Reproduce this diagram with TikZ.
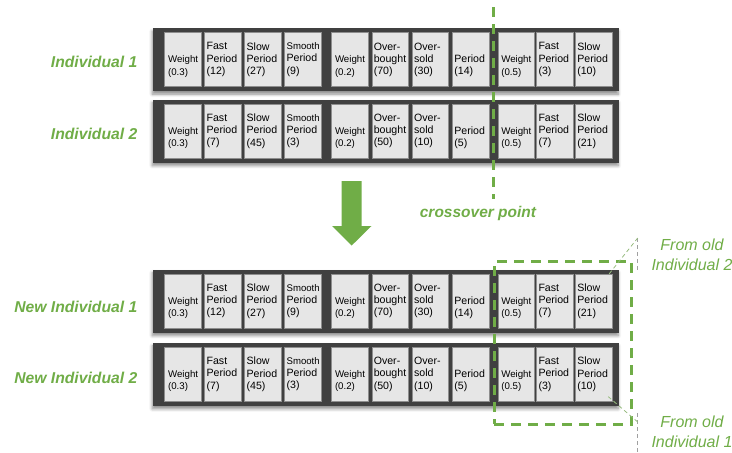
\documentclass[tikz,border=0pt]{standalone}
\usepackage{fontspec}
\setmainfont{Liberation Sans}
\usetikzlibrary{shadows.blur}

\definecolor{leaf}{HTML}{70AD47}
\definecolor{barcol}{HTML}{404040}
\definecolor{cellfill}{HTML}{E6E6E6}
\definecolor{celledge}{HTML}{8E8E8E}
\definecolor{calloutgreen}{HTML}{96BB7E}
\definecolor{calloutgray}{HTML}{A0A0A0}

\tikzset{
  genebar/.style={fill=barcol, draw=none, anchor=north west,
    minimum width=466pt, minimum height=63pt, inner sep=0pt,
    blur shadow={shadow xshift=-1pt, shadow yshift=-3pt,
      shadow blur radius=3pt, shadow blur steps=6, shadow opacity=45}},
  genecell/.style={fill=cellfill, draw=celledge, line width=0.6pt,
    anchor=north west, minimum width=36.6pt, minimum height=54pt,
    inner xsep=2pt, inner ysep=0pt, text width=32.6pt, align=left,
    font=\fontsize{10.6}{12.2}\selectfont},
  rowlabel/.style={text=leaf, anchor=east, inner sep=0pt,
    font=\fontsize{15.7}{18}\selectfont\bfseries\itshape},
  sourcelabel/.style={text=leaf, align=center, inner sep=0pt,
    font=\fontsize{16}{20}\selectfont\itshape},
  thickdash/.style={draw=leaf, line width=3pt, dash pattern=on 10pt off 7pt},
  calloutline/.style={line width=0.8pt, dash pattern=on 4pt off 3pt},
}

% smaller face used for the weight genes
\newcommand\wfont{\fontsize{9.7}{12.2}\selectfont\hspace*{1.5pt}}

% text of gene cell #1 holding value #2
\newcommand\genetext[2]{%
  \ifcase#1\or
    \strut\\\wfont Weight\\\wfont(#2)\or
    Fast\\Period\\(#2)\or
    Slow\\Period\\(#2)\or
    {\fontsize{9.6}{12.2}\selectfont Smooth}\\Period\\(#2)\or
    \strut\\\wfont Weight\\\wfont(#2)\or
    Over-\\bought\\(#2)\or
    Over-\\sold\\(#2)\or
    \strut\\Period\\(#2)\or
    \strut\\\wfont Weight\\\wfont(#2)\or
    Fast\\Period\\(#2)\or
    Slow\\Period\\(#2)\fi}

% one chromosome: #1 name, #2 top of the bar, #3 the eleven gene values
\newcommand\generow[3]{%
  \node[genebar] (#1) at (153,#2) {};
  \foreach \v [count=\i] in {#3} {
    \pgfmathsetmacro\cx{{164.3,204.3,244.3,284.3,331.2,371.5,411.8,452.1,497.5,536.2,575}[\i-1]}
    \node[genecell] (#1c\i) at (\cx,#2+4.3) {\genetext{\i}{\v}};
  }%
}

\begin{document}
\begin{tikzpicture}[x=1pt,y=-1pt]
\useasboundingbox (0,0) rectangle (732,453);

% parents
\generow{ind1}{28}{0.3,12,27,9,0.2,70,30,14,0.5,3,10}
\generow{ind2}{99.5}{0.3,7,45,3,0.2,50,10,5,0.5,7,21}
% offspring
\generow{new1}{269.5}{0.3,12,27,9,0.2,70,30,14,0.5,7,21}
\generow{new2}{342.7}{0.3,7,45,3,0.2,50,10,5,0.5,3,10}

% row labels
\node[rowlabel] (lab1) at (137.5,62) {Individual 1};
\node[rowlabel] (lab2) at (137.5,133.5) {Individual 2};
\node[rowlabel] (lab3) at (137.5,306.5) {New Individual 1};
\node[rowlabel] (lab4) at (137.5,378) {New Individual 2};

% crossover point
\coordinate (cxtop) at (493.3,7);
\coordinate (cxbot) at (493.3,199);
\draw[thickdash] (cxtop) -- (cxbot);
\node[text=leaf, inner sep=0pt, font=\fontsize{15.5}{18}\selectfont\bfseries\itshape]
  (cxlabel) at (478,213.5) {crossover point};

% big down arrow
\fill[leaf] (341.7,181) -- (361.7,181) -- (361.7,226) -- (371.5,226)
  -- (351.7,245.5) -- (332,226) -- (341.7,226) -- cycle;

% swapped tail
\node[thickdash, anchor=north west, minimum width=137.3pt,
  minimum height=162.7pt, inner sep=0pt] (swap) at (492.7,260) {};

% callouts
\node[sourcelabel] (from2) at (692,255) {From old\\Individual 2};
\node[sourcelabel] (from1) at (692,431.7) {From old\\Individual 1};
\coordinate (ct) at (637.7,238);
\coordinate (ctb) at (637.7,271);
\coordinate (cb) at (637.7,422);
\coordinate (cbb) at (637.7,453);
\coordinate (cbt) at (637.7,413);
\draw[calloutline, draw=calloutgray] (ct) -- (ctb);
\draw[calloutline, draw=calloutgreen] ([xshift=-3pt]new1c11.north east) -- (ct);
\draw[calloutline, draw=calloutgray] (cbt) -- (cbb);
\draw[calloutline, draw=calloutgreen] ([xshift=-4pt,yshift=5pt]new2c11.south east) -- (cb);
\end{tikzpicture}
\end{document}
